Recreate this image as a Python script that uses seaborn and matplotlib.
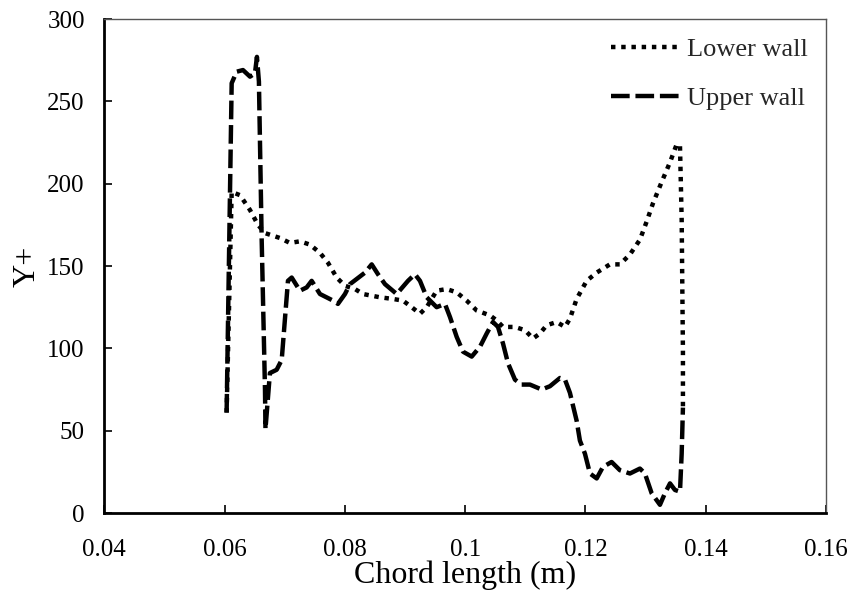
import numpy as np
import pandas as pd
import matplotlib
matplotlib.use("Agg")
import matplotlib.pyplot as plt
import seaborn as sns

# Upper wall (dashed)
upper_x = [0.06034, 0.06118, 0.06201, 0.06306, 0.06423, 0.06505, 0.06538, 0.06571, 0.06617, 0.06672,
           0.06680, 0.06754, 0.06866, 0.06950, 0.07054, 0.07116, 0.07253, 0.07365, 0.07448, 0.07586,
           0.07803, 0.07885, 0.08002, 0.08085, 0.08335, 0.08446, 0.08551, 0.08667, 0.08862, 0.09050,
           0.09165, 0.09249, 0.09361, 0.09526, 0.09664, 0.09748, 0.09859, 0.09964, 0.10109, 0.10247,
           0.10358, 0.10463, 0.10546, 0.10629, 0.10712, 0.10828, 0.10940, 0.11077, 0.11273, 0.11410,
           0.11576, 0.11660, 0.11742, 0.11854, 0.11908, 0.11992, 0.12075, 0.12187, 0.12291, 0.12435,
           0.12573, 0.12740, 0.12906, 0.12989, 0.13101, 0.13239, 0.13322, 0.13406, 0.13488, 0.13572,
           0.13600, 0.13621]
upper_y = [61, 261, 268, 269, 265, 267, 277, 262, 166, 75,
           51, 85, 87, 93, 141, 143, 135, 137, 141, 133,
           129, 127, 133, 139, 146, 151, 145, 139, 133, 141,
           145, 141, 131, 125, 127, 119, 107, 98, 95, 101,
           109, 116, 113, 103, 91, 81, 78, 78, 75, 77,
           82, 81, 73, 56, 44, 36, 24, 21, 28, 31,
           26, 24, 27, 24, 12, 5, 12, 18, 14, 13,
           36, 64]

# Lower wall (dotted)
lower_x = [0.06034, 0.06118, 0.06257, 0.06423, 0.06555, 0.06672, 0.06921, 0.07087, 0.07253, 0.07419,
           0.07586, 0.07719, 0.07864, 0.08002, 0.08169, 0.08301, 0.08584, 0.08799, 0.08966, 0.09111,
           0.09249, 0.09361, 0.09526, 0.09692, 0.09859, 0.10025, 0.10191, 0.10413, 0.10524, 0.10629,
           0.10828, 0.10995, 0.11128, 0.11243, 0.11355, 0.11521, 0.11660, 0.11742, 0.11854, 0.12020,
           0.12187, 0.12407, 0.12573, 0.12740, 0.12906, 0.13018, 0.13122, 0.13267, 0.13406, 0.13518,
           0.13572, 0.13600, 0.13621, 0.13621]
lower_y = [61, 195, 193, 184, 175, 170, 167, 164, 165, 163,
           158, 152, 143, 138, 136, 133, 131, 130, 129, 125,
           121, 125, 135, 136, 134, 129, 123, 120, 117, 113,
           113, 111, 106, 109, 114, 116, 113, 118, 130, 141,
           146, 151, 151, 157, 166, 177, 188, 201, 213, 224,
           223, 178, 98, 64]

x_ticks = [0.04, 0.06, 0.08, 0.1, 0.12, 0.14, 0.16]
x_tick_labels = ["0.04", "0.06", "0.08", "0.1", "0.12", "0.14", "0.16"]
y_ticks = [0, 50, 100, 150, 200, 250, 300]

sns.set_theme(style="white")
plt.rcParams['font.family'] = ['Liberation Serif', 'DejaVu Serif']

fig = plt.figure(figsize=(8.52, 5.92), dpi=100)
ax = fig.add_axes([0.1224, 0.1334, 0.9695 - 0.1224, 0.9679 - 0.1334])

df_low = pd.DataFrame({"x": lower_x, "y": lower_y})
df_up = pd.DataFrame({"x": upper_x, "y": upper_y})

sns.lineplot(data=df_low, x="x", y="y", sort=False, estimator=None, ax=ax,
             color="black", lw=3.2, linestyle=(0, (1.0, 1.3)), label="Lower wall")
sns.lineplot(data=df_up, x="x", y="y", sort=False, estimator=None, ax=ax,
             color="black", lw=3.2, linestyle=(0, (4.2, 1.3)), label="Upper wall")

ax.set_xlim(0.04, 0.16)
ax.set_ylim(0, 300)
ax.set_xticks(x_ticks)
ax.set_xticklabels(x_tick_labels)
ax.set_yticks(y_ticks)
ax.tick_params(axis="both", direction="in", length=6, width=1.2, labelsize=18,
               colors="black", bottom=True, left=True, top=False, right=False)
ax.tick_params(axis="x", pad=18.5)
ax.tick_params(axis="y", pad=14)

for s in ["top", "right"]:
    ax.spines[s].set_color("#555555")
    ax.spines[s].set_linewidth(1.0)
for s in ["left", "bottom"]:
    ax.spines[s].set_color("black")
    ax.spines[s].set_linewidth(2.0)

ax.set_xlabel("Chord length (m)", fontsize=23, color="black", labelpad=0)
ax.set_ylabel("Y+", fontsize=23, color="black", labelpad=4)
ax.grid(False)

leg = ax.legend(loc="upper right", frameon=False, fontsize=19, handlelength=2.7,
                labelspacing=0.95, handletextpad=0.2, borderaxespad=0.0, borderpad=0.4,
                bbox_to_anchor=(0.9896, 0.983))

fig.savefig("out.png", dpi=100)
